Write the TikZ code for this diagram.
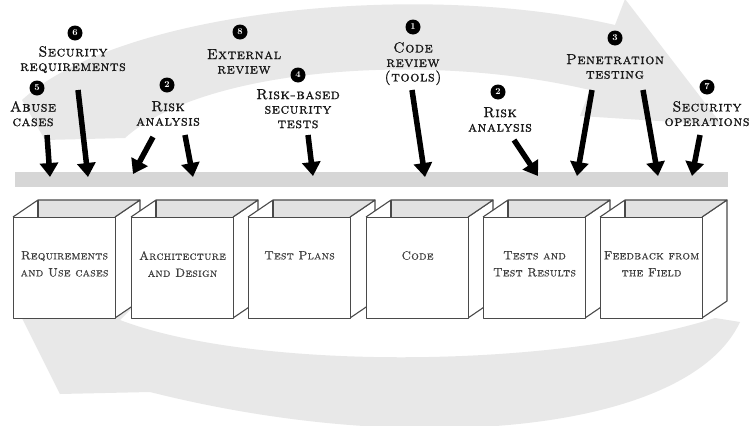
\documentclass[tikz,border=0pt]{standalone}
\usepackage{fontspec}
\usetikzlibrary{arrows.meta}
\newfontfamily\lblfont{lmromancaps10-regular.otf}[LetterSpace=4,FakeBold=1.2]
\newfontfamily\boxfont{lmromancaps10-regular.otf}[LetterSpace=2,FakeBold=0.6]
\definecolor{swirl}{HTML}{E8E8E8}
\definecolor{barc}{HTML}{D6D6D6}
\definecolor{edge}{HTML}{4A4A4A}
\definecolor{topc}{HTML}{E2E2E2}
\begin{document}
\begin{tikzpicture}[x=1pt,y=-1pt,
 lbl/.style={font=\lblfont\fontsize{14.5}{14.5}\selectfont, align=center, inner sep=0pt, anchor=north, text=black!90},
 num/.style={circle, fill=black, text=white, inner sep=0pt, minimum size=15pt, font=\fontsize{9}{9}\selectfont\bfseries},
 bigarrow/.style={line width=5.5pt, -{Triangle[length=14pt,width=18pt]}},
 face/.style={draw=edge, line width=1.1pt, fill=white, line join=round},
 boxtxt/.style={font=\boxfont\fontsize{12}{17}\selectfont, align=center, inner sep=0pt, text=black!75}]

\useasboundingbox (0,0) rectangle (753,426);
\fill[white] (0,0) rectangle (753,426);

% background swirls
\fill[swirl] (22,100) .. controls (120,10) and (420,-20) .. (615,25)
  -- (625,-1) -- (722,125) -- (580,116) -- (590,90)
  .. controls (420,50) and (200,70) .. (125,138) -- (45,140) -- cycle;
\fill[swirl] (740,322) .. controls (690,430) and (420,460) .. (150,392)
  -- (60,394) -- (22,318) -- (140,300) -- (120,320)
  .. controls (250,370) and (550,370) .. (715,318) -- cycle;

% grey bar
\fill[barc] (15,172) rectangle (728,187);

% labels
\node[num] (n6) at (75,33) {6};
\node[lbl] (l6) at (73,46) {Security\\requirements};
\node[num] (n5) at (37,88) {5};
\node[lbl] (l5) at (33,101) {Abuse\\cases};
\node[num] (n2a) at (167,85) {2};
\node[lbl] (l2a) at (168,101) {Risk\\analysis};
\node[num] (n8) at (240,32) {8};
\node[lbl] (l8) at (244,49) {External\\review};
\node[num] (n4) at (298,75) {4};
\node[lbl] (l4) at (298,89) {Risk-based\\security\\tests};
\node[num] (n1) at (413,27) {1};
\node[lbl] (l1) at (413,42) {Code\\review\\(tools)};
\node[num] (n2b) at (498,92) {2};
\node[lbl] (l2b) at (500,107) {Risk\\analysis};
\node[num] (n3) at (615,38) {3};
\node[lbl] (l3) at (615,54) {Penetration\\testing};
\node[num] (n7) at (707,87) {7};
\node[lbl] (l7) at (707,101) {Security\\operations};

% arrow coordinates
\coordinate (a1s) at (47,135);  \coordinate (a1e) at (50,177);
\coordinate (a2s) at (78,90);   \coordinate (a2e) at (88,177);
\coordinate (a3s) at (153,137); \coordinate (a3e) at (133,174);
\coordinate (a4s) at (185,135); \coordinate (a4e) at (193,177);
\coordinate (a5s) at (308,135); \coordinate (a5e) at (313,176);
\coordinate (a6s) at (412,90);  \coordinate (a6e) at (425,177);
\coordinate (a7s) at (514,140); \coordinate (a7e) at (538,176);
\coordinate (a8s) at (592,90);  \coordinate (a8e) at (577,176);
\coordinate (a9s) at (643,90);  \coordinate (a9e) at (658,176);
\coordinate (a10s) at (700,135); \coordinate (a10e) at (692,176);
\foreach \k in {1,...,10} {\draw[bigarrow] (a\k s) -- (a\k e);}

% boxes
\foreach \i/\L/\t in {1/13/{Requirements\\and Use cases},
                      2/131/{Architecture\\and Design},
                      3/248/{Test Plans},
                      4/366/{Code},
                      5/483/{Tests and\\Test Results},
                      6/600/{Feedback from\\the Field}} {
  \pgfmathsetmacro\R{\L+102}
  \filldraw[face] (\R,217) -- (\R+25,200) -- (\R+25,301) -- (\R,318) -- cycle;
  \fill[white] (\L,217) -- (\L+25,200) -- (\R+25,200) -- (\R,217) -- cycle;
  \fill[topc] (\L+25,200) -- (\R+25,200) -- (\R,217) -- (\L+25,217) -- cycle;
  \draw[edge, line width=1.1pt, line join=round] (\L,217) -- (\L+25,200) -- (\R+25,200) -- (\R,217);
  \draw[edge, line width=1.1pt] (\L+25,200) -- (\L+25,217);
  \node[face, minimum width=102pt, minimum height=101pt, anchor=north west, inner sep=0pt] (b\i) at (\L,217) {};
  \node[boxtxt, anchor=north] (t\i) at ([yshift=-34pt]b\i.north) {\t};
}
\end{tikzpicture}
\end{document}
